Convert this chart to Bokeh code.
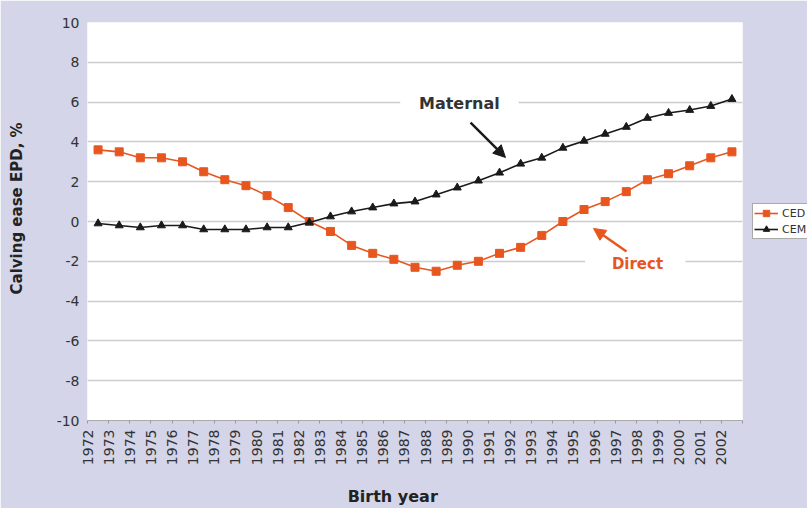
import math
from bokeh.plotting import figure
from bokeh.models import (Range1d, FixedTicker, Legend, LegendItem, Label, Arrow,
                          NormalHead, BoxAnnotation, ColumnDataSource)
from bokeh.embed import file_html
from bokeh.resources import INLINE

# ---- data ----
years = list(range(1972, 2003))
ced = [3.6, 3.5, 3.2, 3.2, 3.0, 2.5, 2.1, 1.8, 1.3, 0.7,
       0.0, -0.5, -1.2, -1.6, -1.9, -2.3, -2.5, -2.2, -2.0, -1.6,
       -1.3, -0.7, 0.0, 0.6, 1.0, 1.5, 2.1, 2.4, 2.8, 3.2, 3.5]
cem = [-0.1, -0.2, -0.3, -0.2, -0.2, -0.4, -0.4, -0.4, -0.3, -0.3,
       -0.05, 0.25, 0.5, 0.7, 0.9, 1.0, 1.35, 1.7, 2.05, 2.45,
       2.9, 3.2, 3.7, 4.05, 4.4, 4.75, 5.2, 5.45, 5.6, 5.8, 6.15]
series_names = ["CED", "CEM"]
y_ticks = [-10, -8, -6, -4, -2, 0, 2, 4, 6, 8, 10]
x_tick_labels = [str(y) for y in years]

BG = "#d4d5e8"
ORANGE = "#e8561f"
BLACK = "#1a1a1a"
FONT = "DejaVu Sans"
NB = "\u00a0"

src = ColumnDataSource(dict(year=years, ced=ced, cem=cem))

p = figure(frame_width=655, frame_height=398, output_backend="svg", toolbar_location=None,
           x_range=Range1d(1971.5, 2002.5), y_range=Range1d(-10, 10),
           min_border_left=87, min_border_right=0, min_border_top=22,
           min_border_bottom=86)
p.background_fill_color = "white"
p.border_fill_color = BG
p.outline_line_color = None

# axes
xt = [y - 0.5 for y in years] + [years[-1] + 0.5]
p.xaxis.ticker = FixedTicker(ticks=xt)
overrides = {y - 0.5: lab for y, lab in zip(years, x_tick_labels)}
overrides[years[-1] + 0.5] = ""
p.xaxis.major_label_overrides = overrides
p.xaxis.major_label_orientation = math.pi / 2
p.xaxis.major_label_text_font = FONT
p.xaxis.major_label_text_font_size = "14px"
p.xaxis.major_label_text_color = "#333333"
p.xaxis.major_tick_out = 3
p.xaxis.major_tick_in = 0
p.xaxis.minor_tick_line_color = None
p.xaxis.major_tick_line_color = "#999999"
p.xaxis.axis_line_color = "#aaaaaa"
p.xaxis.major_label_standoff = 6
p.xaxis.axis_label = "Birth year" + NB * 8
p.xaxis.axis_label_text_font = FONT
p.xaxis.axis_label_text_font_style = "bold"
p.xaxis.axis_label_text_font_size = "16px"
p.xaxis.axis_label_text_color = "#222222"
p.xaxis.axis_label_standoff = 19

p.yaxis.ticker = FixedTicker(ticks=y_ticks)
p.yaxis.major_label_overrides = {t: str(t) for t in y_ticks}
p.yaxis.major_label_text_font = FONT
p.yaxis.major_label_text_font_size = "14px"
p.yaxis.major_label_text_color = "#333333"
p.yaxis.major_tick_out = 0
p.yaxis.major_tick_in = 0
p.yaxis.minor_tick_line_color = None
p.yaxis.axis_line_color = None
p.yaxis.major_label_standoff = 8
p.yaxis.axis_label = NB * 5 + "Calving ease EPD, %"
p.yaxis.axis_label_text_font = FONT
p.yaxis.axis_label_text_font_style = "bold"
p.yaxis.axis_label_text_font_size = "15px"
p.yaxis.axis_label_text_color = "#222222"
p.yaxis.axis_label_standoff = 28

p.xgrid.grid_line_color = None
p.ygrid.grid_line_color = "#cccccc"
p.ygrid.grid_line_width = 1.5

# series
l1 = p.line("year", "ced", source=src, line_color=ORANGE, line_width=1.6)
s1 = p.scatter("year", "ced", source=src, marker="square", size=8,
               fill_color=ORANGE, line_color=ORANGE)
l2 = p.line("year", "cem", source=src, line_color=BLACK, line_width=1.6)
s2 = p.scatter("year", "cem", source=src, marker="triangle", size=8,
               fill_color=BLACK, line_color=BLACK)

legend = Legend(items=[LegendItem(label=series_names[0], renderers=[l1, s1]),
                       LegendItem(label=series_names[1], renderers=[l2, s2])],
                location="left", orientation="vertical",
                label_text_font=FONT, label_text_font_size="11px",
                label_text_color="#333333",
                glyph_width=24, glyph_height=16, label_height=16,
                label_standoff=4, padding=1, spacing=0, margin=10,
                border_line_color="#555555", border_line_width=1,
                background_fill_color="white", background_fill_alpha=1)
p.add_layout(legend, "right")

# annotation gaps in gridlines
p.add_layout(BoxAnnotation(left=1986.3, right=1991.9, bottom=5.6, top=6.4,
                           fill_color="white", fill_alpha=1, line_color=None))
p.add_layout(BoxAnnotation(left=1995.05, right=1999.8, bottom=-2.45, top=-1.65,
                           fill_color="white", fill_alpha=1, line_color=None))

p.add_layout(Label(x=1989.1, y=5.93, text="Maternal", text_align="center",
                   text_baseline="middle", text_font=FONT, text_font_style="bold",
                   text_font_size="16px", text_color="#333333"))
p.add_layout(Label(x=1997.53, y=-2.16, text="Direct", text_align="center",
                   text_baseline="middle", text_font=FONT, text_font_style="bold",
                   text_font_size="15px", text_color=ORANGE))

p.add_layout(Arrow(end=NormalHead(size=12, fill_color=BLACK, line_color=BLACK),
                   x_start=1989.63, y_start=4.97, x_end=1991.28, y_end=3.22,
                   line_color=BLACK, line_width=2.5))
p.add_layout(Arrow(end=NormalHead(size=12, fill_color=ORANGE, line_color=ORANGE),
                   x_start=1997.01, y_start=-1.51, x_end=1995.45, y_end=-0.35,
                   line_color=ORANGE, line_width=2.5))

html = file_html(p, INLINE)
html = html.replace("<body>", '<body style="background-color:%s;">' % BG, 1)
open("out.html", "w").write(html)
